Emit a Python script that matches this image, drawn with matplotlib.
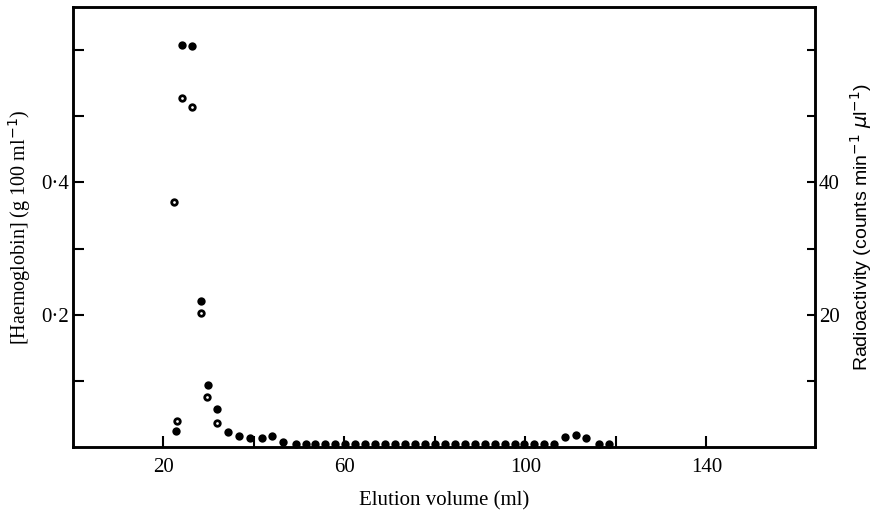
import matplotlib
matplotlib.use("Agg")
import matplotlib.pyplot as plt
from matplotlib.ticker import FixedLocator, FixedFormatter

# open circles: haemoglobin (g 100 ml-1)
hb_volume = [22.4, 22.9, 24.2, 26.4, 28.4, 29.7, 31.8]
hb_conc = [0.371, 0.039, 0.528, 0.514, 0.202, 0.075, 0.037]

# filled circles: radioactivity (counts min-1 ul-1)
ra_volume = [22.8, 24.2, 26.3, 28.4, 29.9, 31.8, 34.3, 36.8, 39.1, 41.7,
             44.1, 46.5, 49.2, 51.4, 53.6, 55.8, 58.0, 60.2, 62.4, 64.6,
             66.8, 69.0, 71.2, 73.4, 75.6, 77.8, 80.0, 82.2, 84.4, 86.6,
             88.8, 91.0, 93.2, 95.4, 97.6, 99.8, 102.0, 104.2, 106.4, 108.7,
             111.1, 113.5, 116.3, 118.5]
ra_counts = [2.4, 60.8, 60.6, 22.1, 9.4, 5.8, 2.3, 1.7, 1.3, 1.3,
             1.6, 0.8, 0.5, 0.5, 0.5, 0.5, 0.5, 0.5, 0.5, 0.5,
             0.5, 0.5, 0.5, 0.5, 0.5, 0.5, 0.5, 0.5, 0.5, 0.5,
             0.5, 0.5, 0.5, 0.5, 0.5, 0.5, 0.5, 0.5, 0.5, 1.5,
             1.8, 1.4, 0.5, 0.4]

x_ticks = [20, 40, 60, 80, 100, 120, 140]
x_labels = ["20", "", "60", "", "100", "", "140"]
hb_ticks = [0.1, 0.2, 0.3, 0.4, 0.5, 0.6]
hb_labels = ["", "0·2", "", "0·4", "", ""]
ra_ticks = [10, 20, 30, 40, 50, 60]
ra_labels = ["", "20", "", "40", "", ""]

plt.rcParams["font.family"] = ["Liberation Serif", "DejaVu Serif"]

fig = plt.figure(figsize=(8.77, 5.11), dpi=100)
ax = fig.add_axes([0.0832, 0.1252, 0.846, 0.861])
ax2 = ax.twinx()

ax.set_xlim(0, 164)
ax.set_ylim(0, 0.665)
ax2.set_ylim(0, 66.5)

ax2.plot(ra_volume, ra_counts, "o", color="black", ms=6.0, mew=0,
         clip_on=False, zorder=5)
ax.plot(hb_volume, hb_conc, "o", mfc="white", mec="black", ms=4.0, mew=2.0,
        clip_on=False, zorder=5)

ax.xaxis.set_major_locator(FixedLocator(x_ticks))
ax.xaxis.set_major_formatter(FixedFormatter(x_labels))
ax.yaxis.set_major_locator(FixedLocator(hb_ticks))
ax.yaxis.set_major_formatter(FixedFormatter(hb_labels))
ax2.yaxis.set_major_locator(FixedLocator(ra_ticks))
ax2.yaxis.set_major_formatter(FixedFormatter(ra_labels))

ax.tick_params(axis="x", direction="in", length=8, width=1.5, pad=8, labelsize=15)
ax.tick_params(axis="y", direction="in", length=8, width=1.5, pad=3, labelsize=15)
ax2.tick_params(axis="y", direction="in", length=6, width=1.5, pad=3, labelsize=15)

for a in (ax, ax2):
    for s in a.spines.values():
        s.set_linewidth(1.8)
ax.set_zorder(ax2.get_zorder() + 1)
ax.patch.set_visible(False)

ax.set_xlabel("Elution volume (ml)", fontsize=15, labelpad=10)
ax.set_ylabel("[Haemoglobin] (g 100 ml$^{-1}$)", fontsize=14.5, labelpad=6)
ax2.set_ylabel("Radioactivity (counts min$^{-1}$ $\\mu$l$^{-1}$)", fontsize=14,
               family=["Liberation Sans", "DejaVu Sans"], labelpad=6)

fig.savefig("out.png", dpi=100)
